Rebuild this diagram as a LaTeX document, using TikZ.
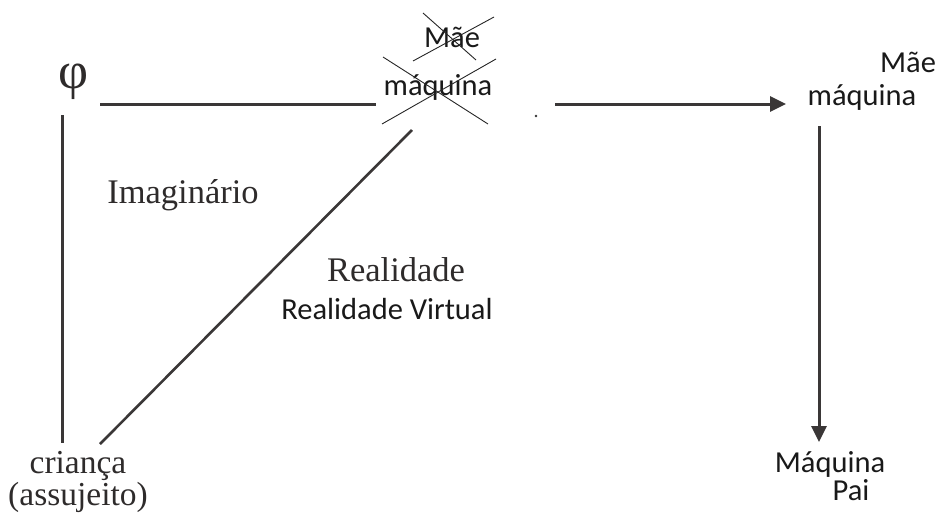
\documentclass[tikz,border=0pt]{standalone}
\usepackage{fontspec}
\setmainfont{Liberation Serif}
\newfontfamily\calfont{Carlito}
\usetikzlibrary{arrows.meta}
\definecolor{ink}{HTML}{3A3737}
\definecolor{sertext}{HTML}{2E2B2B}
\tikzset{
  conn/.style={draw=ink, line width=3pt},
  arr/.style={conn, -{Triangle[length=16pt,width=15pt]}},
  cross/.style={draw=black!85, line width=0.9pt},
  serlabel/.style={text=sertext, font=\fontsize{34.5}{37}\selectfont, inner sep=0pt},
  callabel/.style={text=black!90, font=\calfont\fontsize{30.5}{32}\selectfont, inner sep=0pt, align=center},
}
\begin{document}
\begin{tikzpicture}[x=1pt,y=-1pt]
\useasboundingbox (0,0) rectangle (939,512);
% labels
\node[text=sertext, font=\fontsize{52}{54}\selectfont, inner sep=0pt] (phi) at (74,82) {φ};
\node[serlabel] (imag) at (183,195) {Imaginário};
\node[serlabel] (real) at (396,270) {Realidade};
\node[callabel] (rv) at (387,309) {Realidade Virtual};
\node[serlabel, font=\fontsize{33.5}{30}\selectfont, align=center] (crianca) at (78,482) {criança\\(assujeito)};
\node[callabel] (mae1) at (452,37) {Mãe};
\node[callabel] (maq1) at (438,87) {máquina};
\node[callabel] (mae2) at (908,62) {Mãe};
\node[callabel] (maq2) at (862,97) {máquina};
\node[callabel] (maq3) at (830,464) {Máquina};
\node[callabel] (pai) at (851,490) {Pai};
% anchor coordinates
\coordinate (hA) at (100,104);
\coordinate (hB) at (376,104);
\coordinate (aA) at (555,104);
\coordinate (aB) at (786,104);
\coordinate (vA) at (62,115);
\coordinate (vB) at (62,443);
\coordinate (dA) at (100,444);
\coordinate (dB) at (412,130);
\coordinate (rA) at (819,126);
\coordinate (rB) at (819,442);
\coordinate (c1a) at (423,13);
\coordinate (c1b) at (476,60);
\coordinate (c2a) at (413,61);
\coordinate (c2b) at (494,17);
\coordinate (c3a) at (383,57);
\coordinate (c3b) at (488,124);
\coordinate (c4a) at (382,124);
\coordinate (c4b) at (496,59);
\coordinate (dot) at (536,116);
% connectors
\draw[conn] (hA) -- (hB);
\draw[arr] (aA) -- (aB);
\draw[conn] (vA) -- (vB);
\draw[conn, line width=2.6pt] (dA) -- (dB);
\draw[arr] (rA) -- (rB);
% crossing out
\draw[cross] (c1a) -- (c1b);
\draw[cross] (c2a) -- (c2b);
\draw[cross] (c3a) -- (c3b);
\draw[cross] (c4a) -- (c4b);
\fill[black!80] (dot) circle (1.3pt);
\end{tikzpicture}
\end{document}
